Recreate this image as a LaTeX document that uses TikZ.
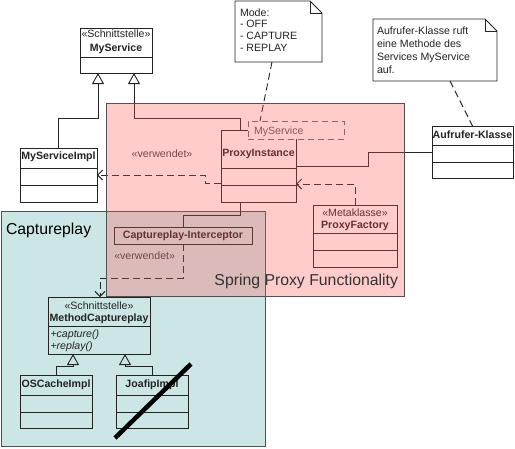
\documentclass[tikz,border=0pt]{standalone}
\usepackage{fontspec}
\setmainfont{Liberation Sans}
\usetikzlibrary{arrows.meta}
\definecolor{cyanbg}{RGB}{204,230,230}
\definecolor{pinkov}{RGB}{255,85,85}
\definecolor{linec}{RGB}{35,35,35}
\definecolor{regb}{RGB}{80,80,80}
\definecolor{tmpl}{RGB}{105,105,105}
\begin{document}
\begin{tikzpicture}[x=1pt,y=-1pt,
  every node/.style={font=\fontsize{10.6}{13}\selectfont, inner sep=0pt, outer sep=0pt, text=linec},
  cls/.style={draw=linec, line width=0.9pt, anchor=north west},
  wcls/.style={cls, fill=white},
  ttl/.style={font=\fontsize{10.6}{13}\selectfont\bfseries, anchor=base},
  stx/.style={anchor=base},
  opx/.style={font=\fontsize{10.6}{13}\selectfont\itshape, anchor=base west},
  ntx/.style={anchor=base west},
  conn/.style={draw=linec, line width=0.9pt},
  gen/.style={conn, -{Triangle[open, length=11pt, width=12pt]}},
  dep/.style={conn, dash pattern=on 7pt off 4pt, -{Straight Barb[length=5pt, width=10pt]}},
  anchorline/.style={conn, dash pattern=on 7pt off 4pt},
  notebox/.style={draw=linec, line width=0.9pt, fill=white},
  region/.style={font=\fontsize{15.8}{18}\selectfont, anchor=base west},
]
\useasboundingbox (0,0) rectangle (515,448);
\fill[white] (0,0) rectangle (515,448);

% Captureplay region
\node[draw=regb, line width=0.9pt, fill=cyanbg, anchor=north west, minimum width=264, minimum height=235] (cpregion) at (1,211) {};
\node[region, text=black] (cplabel) at (6,234) {Captureplay};

% MyService interface
\node[wcls, minimum width=72, minimum height=45] (myservice) at (80,28) {};
\draw[conn] (80,57) -- (152,57);
\node[stx] (msst) at (116,37) {«Schnittstelle»};
\node[ttl] (msname) at (116,51) {MyService};

% MyServiceImpl
\node[wcls, minimum width=77, minimum height=54] (msimpl) at (20,148) {};
\draw[conn] (20,168) -- (97,168);
\draw[conn] (20,185) -- (97,185);
\node[ttl] (msimplname) at (58.5,159.5) {MyServiceImpl};

% ProxyInstance
\node[cls, minimum width=75, minimum height=72] (proxy) at (221,130) {};
\draw[conn] (221,168) -- (296,168);
\draw[conn] (221,185) -- (296,185);
\node[ttl] (proxyname) at (258.5,156) {ProxyInstance};

% template parameter box
\node[draw=tmpl, fill=white, dash pattern=on 6pt off 4pt, line width=0.9pt, anchor=north west, minimum width=96, minimum height=18] (tmplbox) at (248,121) {};
\node[ntx, text=black!65] (tmpltext) at (254,134) {MyService};

% upper verwendet label
\node[ntx, text=black!75] (verw1) at (131.7,157.5) {«verwendet»};

% ProxyFactory
\node[cls, minimum width=84, minimum height=62] (pfactory) at (313,205) {};
\draw[conn] (313,233) -- (397,233);
\draw[conn] (313,250) -- (397,250);
\node[stx] (pfst) at (355,216.5) {«Metaklasse»};
\node[ttl] (pfname) at (355,228.5) {ProxyFactory};

% Captureplay-Interceptor
\node[cls, minimum width=138, minimum height=17] (intercept) at (114,227) {};
\node[ttl] (intname) at (183,238.7) {Captureplay-Interceptor};
\node[ntx, text=black!75] (verw2) at (114.3,259.5) {«verwendet»};

% Aufrufer-Klasse
\node[wcls, minimum width=81, minimum height=52] (caller) at (432,126) {};
\draw[conn] (432,145) -- (513,145);
\draw[conn] (432,162) -- (513,162);
\node[ttl] (callername) at (472.5,138.5) {Aufrufer-Klasse};

% MethodCaptureplay
\node[cls, minimum width=102, minimum height=57] (mcr) at (48,297) {};
\draw[conn] (48,326) -- (150,326);
\node[stx] (mcrst) at (99,309.5) {«Schnittstelle»};
\node[ttl] (mcrname) at (99,321) {MethodCaptureplay};
\node[opx] (opcap) at (50.5,337) {+capture()};
\node[opx] (oprep) at (50.5,349) {+replay()};

% OSCacheImpl
\node[cls, minimum width=72, minimum height=53] (oscache) at (20,375) {};
\draw[conn] (20,395) -- (92,395);
\draw[conn] (20,412) -- (92,412);
\node[ttl] (osname) at (56,387.5) {OSCacheImpl};

% JoafipImpl
\node[cls, minimum width=72, minimum height=53] (joafip) at (116,375) {};
\draw[conn] (116,395) -- (188,395);
\draw[conn] (116,412) -- (188,412);
\node[ttl] (joname) at (152,387.5) {JoafipImpl};

% Notes
\node[anchor=north west, minimum width=87, minimum height=61] (modenote) at (235,1) {};
\draw[notebox] (modenote.north west) -- ([xshift=-12pt]modenote.north east) -- ([yshift=-12pt]modenote.north east) -- (modenote.south east) -- (modenote.south west) -- cycle;
\draw[conn] ([xshift=-12pt]modenote.north east) -- ([xshift=-12pt,yshift=-12pt]modenote.north east) -- ([yshift=-12pt]modenote.north east);
\node[ntx] (mode1) at (240,16) {Mode:};
\node[ntx] (mode2) at (240,27.8) {- OFF};
\node[ntx] (mode3) at (240,39.6) {- CAPTURE};
\node[ntx] (mode4) at (240,51.4) {- REPLAY};

\node[anchor=north west, minimum width=124, minimum height=62] (callnote) at (373,19) {};
\draw[notebox] (callnote.north west) -- ([xshift=-12pt]callnote.north east) -- ([yshift=-12pt]callnote.north east) -- (callnote.south east) -- (callnote.south west) -- cycle;
\draw[conn] ([xshift=-12pt]callnote.north east) -- ([xshift=-12pt,yshift=-12pt]callnote.north east) -- ([yshift=-12pt]callnote.north east);
\node[ntx] (cn1) at (377,34) {Aufrufer-Klasse ruft};
\node[ntx] (cn2) at (377,47) {eine Methode des};
\node[ntx] (cn3) at (377,60) {Services MyService};
\node[ntx] (cn4) at (377,73) {auf.};

% Connectors
\draw[gen] (msimpl.north) -- ++(0,-30) -| ([xshift=-18pt]myservice.south);
\draw[gen] ([xshift=-18.5pt]proxy.north) -- ++(0,-12) -| ([xshift=18pt]myservice.south);
\draw[conn] (caller.west) -- ++(-64,0) |- (proxy.east);
\draw[dep] (pfactory.north) |- ([yshift=-18pt]proxy.east);
\draw[dep] ([yshift=-17pt]proxy.west) -- ++(-16,0) |- (msimpl.east);
\draw[conn] ([xshift=-18.5pt]proxy.south) -- ++(0,13) -| (intercept.north);
\draw[dep] (intercept.south) -- ++(0,34) -| ([xshift=1pt]mcr.north);
\draw[gen] (oscache.north) -- ++(0,-9) -| ([xshift=-26pt]mcr.south);
\draw[gen] (joafip.north) -- ++(0,-9) -| ([xshift=26pt]mcr.south);
\draw[anchorline] ([xshift=-6.5pt]modenote.south) -- ([xshift=-36pt]tmplbox.north);
\draw[anchorline] ([xshift=15pt]callnote.south) -- (caller.north);

% strike-through
\coordinate (s1) at (115,438);
\coordinate (s2) at (191,364);
\draw[line width=4.5pt, black] (s1) -- (s2);

% Spring region overlay
\node[fill=pinkov, fill opacity=0.3, anchor=north west, minimum width=298, minimum height=193] (springregion) at (106,103) {};
\draw[regb, line width=0.9pt] (springregion.north west) rectangle (springregion.south east);
\node[region, anchor=base east, text=black!80] (springlabel) at (398,285) {Spring Proxy Functionality};
\end{tikzpicture}
\end{document}
